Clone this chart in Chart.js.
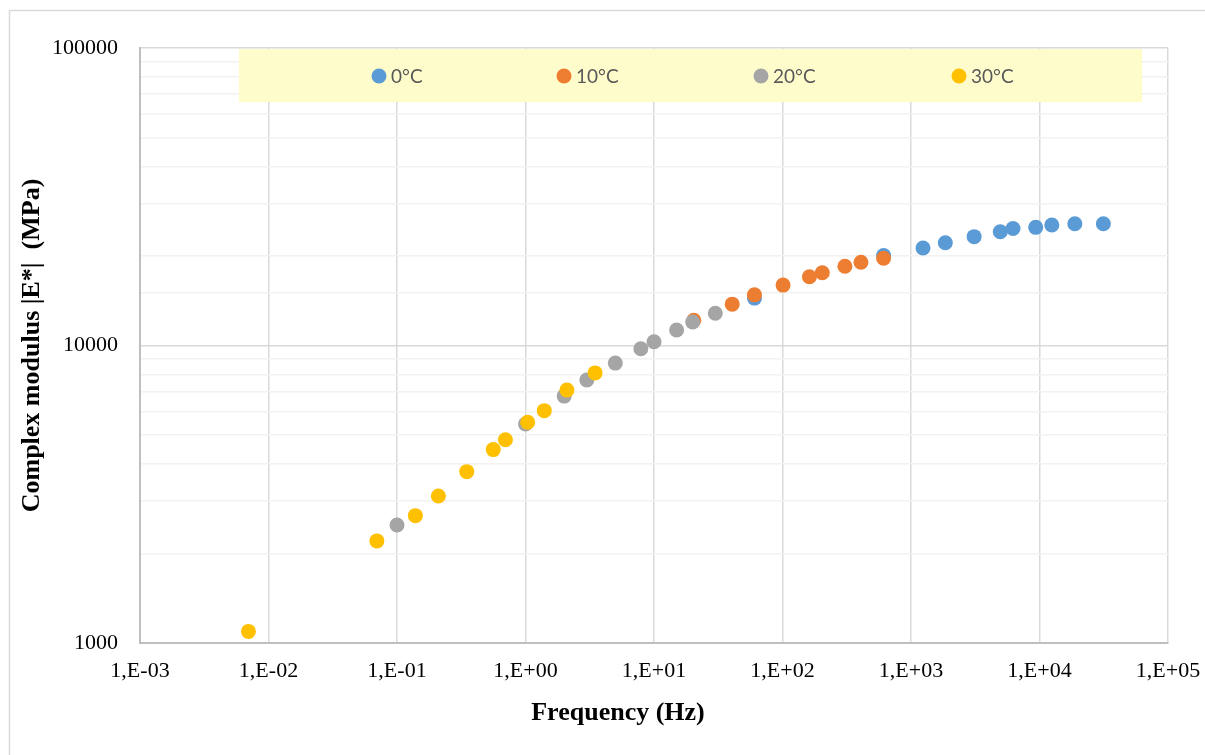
<!DOCTYPE html>
<html>
<head>
<meta charset="utf-8">
<script src="https://cdn.jsdelivr.net/npm/chart.js@4/dist/chart.umd.min.js"></script>
<style>
  html, body { margin: 0; padding: 0; background: #ffffff; }
  #wrap { width: 1205px; height: 755px; position: relative; }
</style>
</head>
<body>
<div id="wrap"><canvas id="c" width="1205" height="755"></canvas></div>
<script>
// ---- data ----
const seriesNames = ['0°C', '10°C', '20°C', '30°C'];
const seriesColors = ['#5B9BD5', '#ED7D31', '#A5A5A5', '#FFC000'];

const freq0 = [60.5, 612, 1240, 1850, 3100, 4950, 6220, 9340, 12470, 18840, 31400];
const e0    = [14430, 20050, 21270, 22140, 23220, 24110, 24720, 24950, 25410, 25650, 25650];

const freq10 = [20.4, 40.6, 60.5, 101, 162, 204, 306, 408, 612];
const e10    = [12150, 13770, 14800, 15960, 17020, 17570, 18460, 19040, 19640];

const freq20 = [0.1, 1, 2, 3, 5, 7.9, 10, 15, 20, 30];
const e20    = [2493, 5445, 6760, 7655, 8728, 9750, 10300, 11270, 12000, 12830];

const freq30 = [0.00698, 0.0697, 0.139, 0.210, 0.349, 0.561, 0.698, 1.04, 1.40, 2.10, 3.48];
const e30    = [1094, 2204, 2680, 3120, 3766, 4467, 4820, 5520, 6040, 7080, 8090];

const xTickValues = [0.001, 0.01, 0.1, 1, 10, 100, 1000, 10000, 100000];
const xTickLabels = ['1,E-03', '1,E-02', '1,E-01', '1,E+00', '1,E+01', '1,E+02', '1,E+03', '1,E+04', '1,E+05'];
const yMajorTicks = [1000, 10000, 100000];

const xTitle = 'Frequency (Hz)';
const yTitle = 'Complex modulus |E*|  (MPa)';

// ---- build ----
function pts(xs, ys) { return xs.map((x, i) => ({ x: x, y: ys[i] })); }
const allX = [freq0, freq10, freq20, freq30];
const allY = [e0, e10, e20, e30];

const datasets = seriesNames.map((name, i) => ({
  label: name,
  data: pts(allX[i], allY[i]),
  backgroundColor: seriesColors[i],
  borderColor: seriesColors[i],
  borderWidth: 0,
  pointRadius: 7.5,
  pointHoverRadius: 7.5,
  showLine: false,
  order: seriesNames.length - 1 - i
}));

const isMajor = v => yMajorTicks.some(m => Math.abs(m - v) < 1e-6);

const serif = '"Liberation Serif", "Times New Roman", serif';

const legendPlugin = {
  id: 'boxLegend',
  beforeDatasetsDraw(chart) {
    const ctx = chart.ctx;
    ctx.save();
    ctx.fillStyle = '#FFFCCC';
    ctx.fillRect(239, 49, 903, 53);
    const markerX = [379, 564, 761, 959];
    const cy = 76;
    ctx.font = '19px Lato, "Open Sans", sans-serif';
    ctx.textBaseline = 'middle';
    ctx.textAlign = 'left';
    seriesNames.forEach((name, i) => {
      ctx.beginPath();
      ctx.fillStyle = seriesColors[i];
      ctx.arc(markerX[i], cy, 7.5, 0, Math.PI * 2);
      ctx.fill();
      ctx.fillStyle = '#595959';
      ctx.fillText(name, markerX[i] + 12, cy + 1);
    });
    ctx.restore();
  },
  afterDraw(chart) {
    const ctx = chart.ctx;
    ctx.save();
    // outer chart border (top and left edges visible)
    ctx.strokeStyle = '#D9D9D9';
    ctx.lineWidth = 1.5;
    ctx.beginPath();
    ctx.moveTo(9.5, 760);
    ctx.lineTo(9.5, 10.5);
    ctx.lineTo(1210, 10.5);
    ctx.stroke();
    // x axis title
    ctx.fillStyle = '#000000';
    ctx.font = 'bold 26px ' + serif;
    ctx.textAlign = 'center';
    ctx.textBaseline = 'middle';
    ctx.fillText(xTitle, 618, 713);
    ctx.restore();
  }
};

new Chart(document.getElementById('c'), {
  type: 'scatter',
  data: { datasets: datasets },
  plugins: [legendPlugin],
  options: {
    responsive: false,
    devicePixelRatio: 1,
    animation: false,
    events: [],
    layout: { padding: { left: 0, top: 48, right: 37, bottom: 0 } },
    plugins: {
      legend: { display: false },
      tooltip: { enabled: false },
      title: { display: false }
    },
    scales: {
      x: {
        type: 'logarithmic',
        position: 'bottom',
        min: 0.001,
        max: 100000,
        afterBuildTicks(scale) {
          scale.ticks = xTickValues.map(v => ({ value: v }));
        },
        afterFit(scale) {
          scale.height = 112;
          scale.paddingLeft = 0;
          scale.paddingRight = 0;
        },
        ticks: {
          autoSkip: false,
          maxRotation: 0,
          minRotation: 0,
          padding: 15,
          color: '#000000',
          font: { family: serif, size: 22 },
          callback(value, index) { return xTickLabels[index]; }
        },
        grid: {
          drawTicks: false,
          color: '#D9D9D9',
          lineWidth: 1.5
        },
        border: { color: '#BFBFBF', width: 2 }
      },
      y: {
        type: 'logarithmic',
        position: 'left',
        min: 1000,
        max: 100000,
        afterFit(scale) {
          scale.width = 140;
          scale.paddingTop = 0;
          scale.paddingBottom = 0;
        },
        ticks: {
          autoSkip: false,
          padding: 22,
          color: '#000000',
          font: { family: serif, size: 22 },
          callback(value) { return isMajor(value) ? String(value) : ''; }
        },
        grid: {
          drawTicks: false,
          color: ctx => (ctx.tick && isMajor(ctx.tick.value)) ? '#D9D9D9' : '#F2F2F2',
          lineWidth: 1.5
        },
        border: { color: '#BFBFBF', width: 2 },
        title: {
          display: true,
          text: yTitle,
          color: '#000000',
          font: { family: serif, size: 26, weight: 'bold' },
          padding: { top: 17, bottom: 0 }
        }
      }
    }
  }
});
</script>
</body>
</html>
